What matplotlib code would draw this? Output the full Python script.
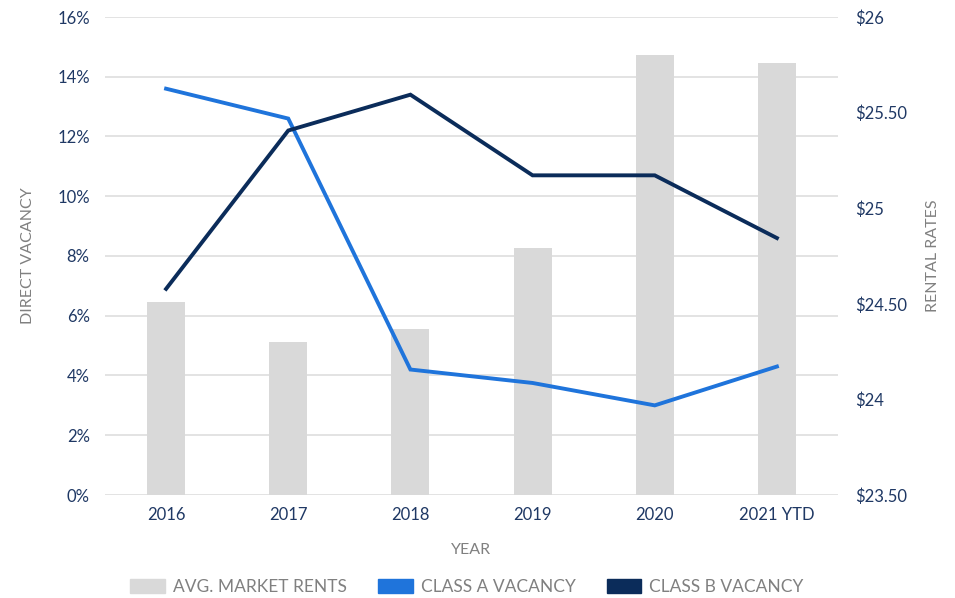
import matplotlib
matplotlib.use("Agg")
import matplotlib.pyplot as plt
from matplotlib.patches import Patch
from matplotlib.ticker import FixedLocator

years = ["2016", "2017", "2018", "2019", "2020", "2021 YTD"]
avg_rents = [24.51, 24.30, 24.37, 24.79, 25.80, 25.76]
class_a = [13.6, 12.6, 4.2, 3.75, 3.0, 4.3]
class_b = [6.9, 12.2, 13.4, 10.7, 10.7, 8.6]
left_ticks = [0, 2, 4, 6, 8, 10, 12, 14, 16]
left_labels = ["0%", "2%", "4%", "6%", "8%", "10%", "12%", "14%", "16%"]
right_ticks = [23.5, 24.0, 24.5, 25.0, 25.5, 26.0]
right_labels = ["$23.50", "$24", "$24.50", "$25", "$25.50", "$26"]

BAR = "#D9D9D9"
CA = "#1F74DB"
CB = "#0B2C5A"
TICK = "#1F3864"
LAB = "#808080"
GRID = "#E0E0E0"

plt.rcParams["font.family"] = ["Lato", "DejaVu Sans"]

fig = plt.figure(figsize=(9.55, 5.98), dpi=100)
ax = fig.add_axes([105/955, 1-495/598, (838-105)/955, (495-17)/598])
ax2 = ax.twinx()

x = list(range(len(years)))
R0, R1 = 23.5, 26.0
L0, L1 = 0, 16
ax2.bar(x, [v - R0 for v in avg_rents], bottom=R0, width=0.31, color=BAR, zorder=1)
ax2.set_ylim(R0, R1)
ax2.yaxis.set_major_locator(FixedLocator(right_ticks))
ax2.set_yticklabels(right_labels)

# gridlines at left-axis ticks, drawn on bar axis (behind bars)
for t in left_ticks:
    ax2.axhline(R0 + (t - L0) / (L1 - L0) * (R1 - R0), color=GRID, lw=1.3, zorder=0)

ax.set_zorder(ax2.get_zorder() + 1)
ax.patch.set_visible(False)
ax.plot(x, class_a, color=CA, lw=2.8, solid_joinstyle="miter", zorder=3)
ax.plot(x, class_b, color=CB, lw=2.8, solid_joinstyle="miter", zorder=3)
ax.set_ylim(L0, L1)
ax.set_xlim(-0.5, len(years) - 0.5)
ax.yaxis.set_major_locator(FixedLocator(left_ticks))
ax.set_yticklabels(left_labels)
ax.set_xticks(x)
ax.set_xticklabels(years)

for a in (ax, ax2):
    for s in a.spines.values():
        s.set_visible(False)
    a.tick_params(length=0, labelsize=12, colors=TICK)
ax.tick_params(axis="y", pad=11)
ax.tick_params(axis="x", pad=9)
ax2.tick_params(axis="y", pad=12)

ax.set_ylabel("DIRECT VACANCY", color=LAB, fontsize=11.5, labelpad=16)
ax2.set_ylabel("RENTAL RATES", color=LAB, fontsize=11.5, labelpad=14)
ax.set_xlabel("YEAR", color=LAB, fontsize=11.5, labelpad=14)

handles = [Patch(color=BAR), Patch(color=CA), Patch(color=CB)]
labels = ["AVG. MARKET RENTS", "CLASS A VACANCY", "CLASS B VACANCY"]
leg = fig.legend(handles, labels, loc="center", bbox_to_anchor=(467/955, 1-587/598),
                 ncol=3, frameon=False, fontsize=12.5, handlelength=2.0, handleheight=0.85,
                 handletextpad=0.45, columnspacing=1.8)
for t in leg.get_texts():
    t.set_color(LAB)

fig.savefig("out.png", dpi=100)
